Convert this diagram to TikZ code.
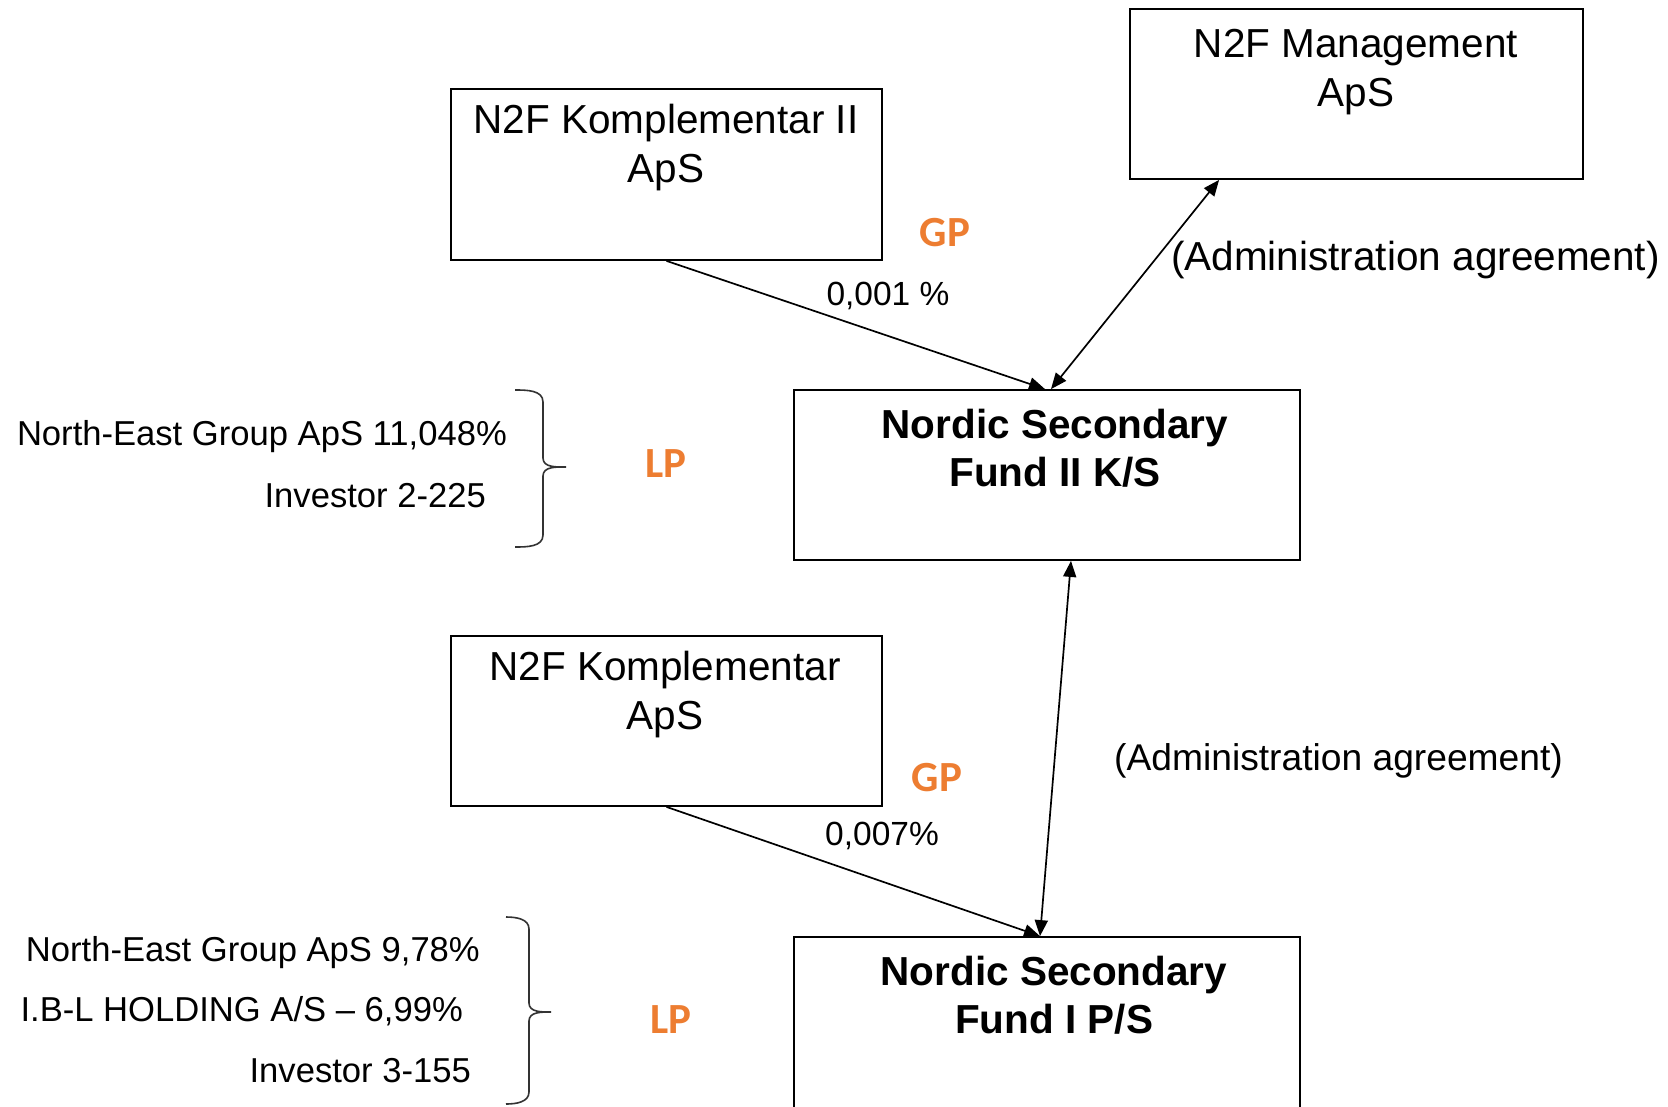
\documentclass[tikz,border=0pt]{standalone}
\usepackage{fontspec}
\setmainfont{Liberation Sans}
\newfontfamily\gpfont{Carlito}
\usetikzlibrary{arrows.meta,calc}
\definecolor{gporange}{HTML}{ED7D31}
\begin{document}
\begin{tikzpicture}[x=1pt,y=-1pt,
  box/.style={draw=black, line width=1.8pt, rectangle, inner sep=0pt},
  boxtxt/.style={font=\fontsize{40.5}{49}\selectfont, align=center, inner sep=0pt},
  boldtxt/.style={font=\fontsize{40.5}{48}\selectfont\bfseries, align=center, inner sep=0pt},
  tag/.style={font=\gpfont\bfseries\fontsize{43}{43}\selectfont, text=gporange, inner sep=0pt},
  pct/.style={font=\fontsize{33.5}{40}\selectfont, inner sep=0pt},
  lst/.style={font=\fontsize{34.6}{40}\selectfont, inner sep=0pt, anchor=east},
  adm/.style={font=\fontsize{40.5}{49}\selectfont, inner sep=0pt, anchor=west},
  arr/.style={line width=1.7pt, -{Triangle[length=16pt,width=13pt]}},
  darr/.style={line width=1.7pt, {Triangle[length=16pt,width=13pt]}-{Triangle[length=16pt,width=13pt]}},
  brace/.style={line width=1.6pt, draw=black!80}
]
\fill[white] (0,0) rectangle (1668,1106);
\useasboundingbox (0,0) rectangle (1668,1106);

% boxes
\node[box, minimum width=431pt, minimum height=171pt] (k2) at (666.5,174.5) {};
\node[box, minimum width=453pt, minimum height=170pt] (mgmt) at (1356.5,94) {};
\node[box, minimum width=506pt, minimum height=170pt] (f2) at (1047,475) {};
\node[box, minimum width=431pt, minimum height=170pt] (k1) at (666.5,721) {};
\node[box, minimum width=506pt, minimum height=200pt] (f1) at (1047,1037) {};

% box texts
\node[boxtxt] (k2t) at (666,148) {N2F Komplementar II\\ApS};
\node[boxtxt] (mgmtt) at (1356,72) {N2F Management\\ApS};
\node[boldtxt] (f2t) at (1055,448) {Nordic Secondary\\Fund II K/S};
\node[boxtxt] (k1t) at (665,695) {N2F Komplementar\\ApS};
\node[boldtxt] (f1t) at (1054,995) {Nordic Secondary\\Fund I P/S};

% GP / LP tags
\node[tag] (gp2) at (945,233) {GP};
\node[tag] (gp1) at (937,778) {GP};
\node[tag] (lp2) at (666,464) {LP};
\node[tag] (lp1) at (671,1020) {LP};

% percentages
\node[pct] (p2) at (888,296) {0,001 \%};
\node[pct] (p1) at (882,836) {0,007\%};

% administration agreements
\node[adm] (adm2) at (1171,260) {(Administration agreement)};
\node[adm, font=\fontsize{37.2}{45}\selectfont] (adm1) at (1114,761) {(Administration agreement)};

% LP lists
\node[lst] (ne2) at (507,437) {North-East Group ApS 11,048\%};
\node[lst] (inv2) at (486,496) {Investor 2-225};
\node[lst] (ne1) at (480,953) {North-East Group ApS 9,78\%};
\node[lst] (ibl) at (463,1011) {I.B-L HOLDING A/S – 6,99\%};
\node[lst] (inv1) at (471,1071) {Investor 3-155};

% braces
\draw[brace] (515,390) to[out=0,in=90] (543,402) -- (543,458) to[out=-90,in=180] (566,467)
  to[out=180,in=90] (543,476) -- (543,535) to[out=-90,in=0] (515,547);
\draw[brace] (506,917) to[out=0,in=90] (529,929) -- (529,1003) to[out=-90,in=180] (551,1012)
  to[out=180,in=90] (529,1021) -- (529,1092) to[out=-90,in=0] (506,1104);

% connectors
\draw[arr] (k2.south) -- ($(f2.north)+(-2,0)$);
\draw[darr] ($(mgmt.south west)+(90,0)$) -- ($(f2.north)+(4,0)$);
\draw[darr] ($(f2.south)+(24,0)$) -- ($(f1.north)+(-7,0)$);
\draw[arr] (k1.south) -- ($(f1.north)+(-7,0)$);
\end{tikzpicture}
\end{document}
